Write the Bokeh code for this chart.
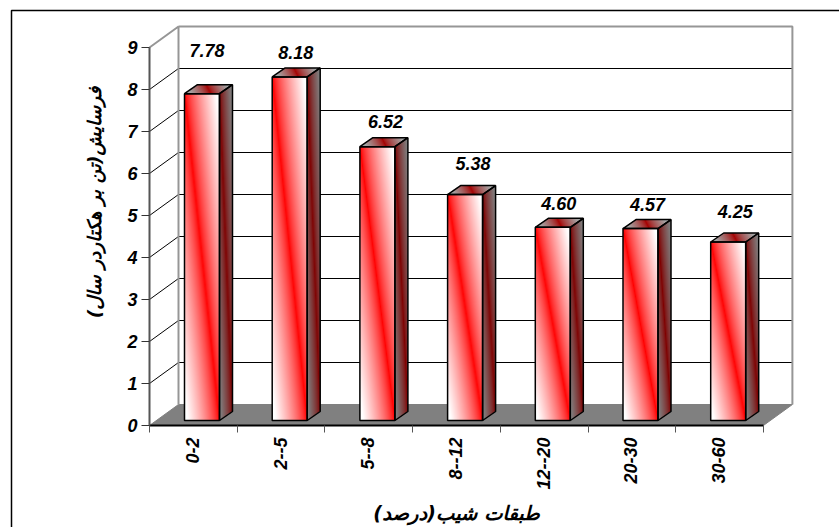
import numpy as np
from bokeh.plotting import figure
from bokeh.models import LinearAxis, FixedTicker, Label, Range1d
from bokeh.core.properties import value
from bokeh.embed import file_html
from bokeh.resources import INLINE

categories = ["0-2", "2--5", "5--8", "8--12", "12--20", "20-30", "30-60"]
erosion = [7.78, 8.18, 6.52, 5.38, 4.60, 4.57, 4.25]
y_ticks = list(range(10))
x_title = "طبقات شیب(درصد)"
y_title = "فرسایش(تن بر هکتاردر سال)"

# layout: pixels per data unit and 3-D projection offsets
W, H = 839, 527
ORIGIN_X, ORIGIN_Y = 149, 425
PX_X = 87.7
PX_Y = 42.0
FLOOR_DX, FLOOR_DY = 29 / PX_X, 21 / PX_Y
BAR_X0, BAR_W = 35 / PX_X, 35 / PX_X
BAR_BASE = 5 / PX_Y
BAR_DX, BAR_DY = 13 / PX_X, 9 / PX_Y
LABEL_DX = [5, 6, 8, 8, 6, 7, 7]
LABEL_UP = [43, 24.5, 25, 31, 24, 24, 31]
N = len(categories)
YMAX = y_ticks[-1]

FONT = "Liberation Sans"
ARABIC = "DejaVu Sans"


def page_x(px):
    return (px - ORIGIN_X) / PX_X


def page_y(py):
    return (ORIGIN_Y - py) / PX_Y


p = figure(width=W, height=H, output_backend="svg", toolbar_location=None,
           x_axis_type=None, y_axis_type=None,
           x_range=Range1d(page_x(0), page_x(W)),
           y_range=Range1d(page_y(H), page_y(0)),
           min_border_left=0, min_border_right=0,
           min_border_top=0, min_border_bottom=0,
           outline_line_color=None, background_fill_color="white")
p.grid.visible = False

# outer chart frame: only its left and top edges lie on the page
p.line([page_x(11), page_x(11), page_x(W)], [page_y(H), page_y(10), page_y(10)],
       line_color="black", line_width=1.5)

# floor
p.patch([0, N, N + FLOOR_DX, FLOOR_DX], [0, 0, FLOOR_DY, FLOOR_DY],
        fill_color="#808080", line_color="#808080")

# gridlines on side wall and back wall
inner = y_ticks[1:-1]
p.segment(x0=[0] * len(inner), y0=inner, x1=[FLOOR_DX] * len(inner),
          y1=[k + FLOOR_DY for k in inner], line_color="black", line_width=1)
p.segment(x0=[FLOOR_DX] * len(inner), y0=[k + FLOOR_DY for k in inner],
          x1=[N + FLOOR_DX] * len(inner), y1=[k + FLOOR_DY for k in inner],
          line_color="black", line_width=1)
# wall borders
p.line([0, FLOOR_DX, FLOOR_DX], [YMAX, YMAX + FLOOR_DY, FLOOR_DY],
       line_color="#969696", line_width=2)
p.line([FLOOR_DX, N + FLOOR_DX, N + FLOOR_DX],
       [YMAX + FLOOR_DY, YMAX + FLOOR_DY, FLOOR_DY],
       line_color="#969696", line_width=2)


def shade(u, factor):
    """white -> red -> white diagonal sweep, darkened by factor"""
    s = np.clip(np.abs(u) / 0.9, 0, 1) ** 0.75
    rgba = np.zeros(u.shape + (4,), dtype=np.uint8)
    rgba[..., 0] = np.uint8(255 * factor)
    rgba[..., 1] = np.uint8(255 * s * factor)
    rgba[..., 2] = np.uint8(255 * s * factor)
    rgba[..., 3] = 255
    return rgba


def pack(rgba):
    return rgba.view(dtype=np.uint32).reshape(rgba.shape[:2])


SS = 3
for i, v in enumerate(erosion):
    x0 = i + BAR_X0
    x1 = x0 + BAR_W
    y0 = BAR_BASE
    y1 = BAR_BASE + v  # top of the front face

    # front face
    nx = int(BAR_W * PX_X * SS)
    ny = int((y1 - y0) * PX_Y * SS)
    fx = (np.arange(nx) + .5) / nx
    fy = (np.arange(ny) + .5) / ny          # 0 at bottom
    gx, gy = np.meshgrid(fx, fy)
    u = gx - (1 - gy)
    p.image_rgba(image=[pack(shade(u, 1.0))], x=[x0], y=[y0], dw=[x1 - x0], dh=[y1 - y0])

    # side face
    nx2 = max(int(BAR_DX * PX_X * SS), 2)
    ny2 = int((y1 - y0 + BAR_DY) * PX_Y * SS)
    fx2 = (np.arange(nx2) + .5) / nx2
    yy = y0 + (np.arange(ny2) + .5) / ny2 * (y1 - y0 + BAR_DY)
    gx2, gyy = np.meshgrid(fx2, yy)
    rel = (gyy - (y0 + BAR_DY * gx2)) / (y1 - y0)
    side = shade(gx2 - (1 - rel), 0.5)
    side[..., 3] = np.where((rel >= 0) & (rel <= 1), 255, 0)
    p.image_rgba(image=[pack(side)], x=[x1], y=[y0], dw=[BAR_DX], dh=[y1 - y0 + BAR_DY])

    # top face
    nx3 = int((BAR_W + BAR_DX) * PX_X * SS)
    ny3 = max(int(BAR_DY * PX_Y * SS), 2)
    fy3 = (np.arange(ny3) + .5) / ny3
    xx = (np.arange(nx3) + .5) / nx3 * (BAR_W + BAR_DX)
    gxx, gy3 = np.meshgrid(xx, fy3)
    rel3 = (gxx - BAR_DX * gy3) / BAR_W
    top = shade(1.6 * (rel3 - 0.5 + (gy3 - 0.5) * 0.5), 0.65)
    top[..., 3] = np.where((rel3 >= 0) & (rel3 <= 1), 255, 0)
    p.image_rgba(image=[pack(top)], x=[x0], y=[y1], dw=[BAR_W + BAR_DX], dh=[BAR_DY])

    # outlines
    p.patch([x0, x1, x1, x0], [y0, y0, y1, y1], fill_color=None, line_color="black", line_width=1.5)
    p.patch([x1, x1 + BAR_DX, x1 + BAR_DX, x1], [y0, y0 + BAR_DY, y1 + BAR_DY, y1],
            fill_color=None, line_color="black", line_width=1.5)
    p.patch([x0, x1, x1 + BAR_DX, x0 + BAR_DX], [y1, y1, y1 + BAR_DY, y1 + BAR_DY],
            fill_color=None, line_color="black", line_width=1.5)

# value labels
p.text(x=[i + BAR_X0 + BAR_W / 2 for i in range(N)], y=[v + BAR_BASE for v in erosion],
       text=[f"{v:.2f}" for v in erosion],
       x_offset=LABEL_DX, y_offset=[-u for u in LABEL_UP],
       text_font=value(FONT), text_font_style="bold italic", text_font_size="18px",
       text_align="center", text_baseline="middle", text_color="black")

# y axis
yax = LinearAxis(ticker=FixedTicker(ticks=y_ticks), bounds=(0, YMAX), fixed_location=0,
                 axis_line_color="#555555", axis_line_width=2,
                 major_tick_in=0, major_tick_out=8, major_tick_line_color="#333333",
                 major_tick_line_width=1, minor_tick_line_color=None,
                 major_label_standoff=4,
                 major_label_text_font=FONT, major_label_text_font_style="bold italic",
                 major_label_text_font_size="18px", major_label_text_color="black")
p.add_layout(yax, "left")

# x axis: tick marks on slot edges
edges = list(range(N + 1))
xax = LinearAxis(ticker=FixedTicker(ticks=[], minor_ticks=edges), bounds=(0, N), fixed_location=0,
                 axis_line_color="black", axis_line_width=2,
                 major_tick_line_color=None,
                 minor_tick_line_color="#555555", minor_tick_in=0, minor_tick_out=7,
                 minor_tick_line_width=1)
p.add_layout(xax, "below")

# category labels, top-aligned below the axis
for i, c in enumerate(categories):
    p.add_layout(Label(x=i + 0.5, y=page_y(437), x_offset=-1, text=c, angle=np.pi / 2,
                       text_align="right", text_baseline="middle",
                       text_font=FONT, text_font_style="bold italic",
                       text_font_size="18px", text_color="black"))

# axis titles
p.add_layout(Label(x=page_x(456), y=page_y(513), text=x_title,
                   text_align="center", text_baseline="middle",
                   text_font=ARABIC, text_font_style="bold italic",
                   text_font_size="19.5px", text_color="black"))
p.add_layout(Label(x=page_x(94), y=page_y(202), text=y_title, angle=np.pi / 2,
                   text_align="center", text_baseline="middle",
                   text_font=ARABIC, text_font_style="bold italic",
                   text_font_size="18.5px", text_color="black"))

open("out.html", "w").write(file_html(p, INLINE))
